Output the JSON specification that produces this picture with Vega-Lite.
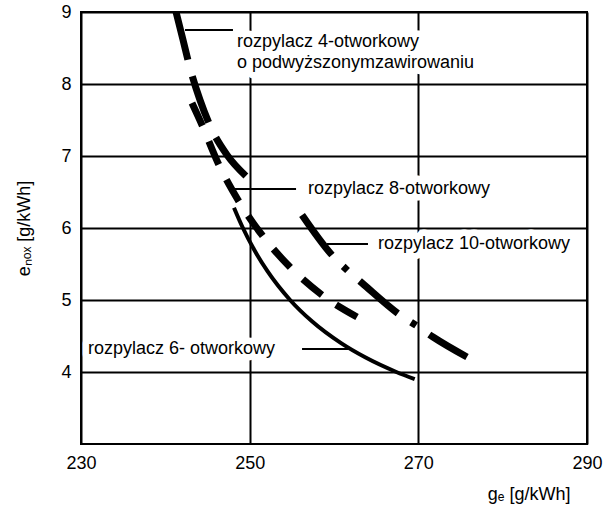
{
  "$schema": "https://vega.github.io/schema/vega-lite/v6.json",
  "width": 506,
  "height": 432,
  "autosize": {"type": "none"},
  "padding": {"left": 81, "top": 12, "right": 18, "bottom": 64},
  "background": "white",
  "config": {
    "view": {"stroke": "black", "strokeWidth": 2},
    "font": "Liberation Sans",
    "axis": {
      "domain": false,
      "ticks": false,
      "grid": true,
      "gridColor": "black",
      "gridWidth": 2,
      "gridOpacity": 1,
      "labelFont": "Liberation Sans",
      "labelFontSize": 18,
      "labelColor": "black",
      "labelFlush": false,
      "labelPadding": 10,
      "titleFont": "Liberation Sans",
      "titleFontSize": 18,
      "titleFontWeight": "normal",
      "titleColor": "black"
    }
  },
  "datasets": {
    "curves": [
      {"series": "4h", "ge": 241.27, "e": 9.0},
      {"series": "4h", "ge": 242.10, "e": 8.611},
      {"series": "4h", "ge": 242.99, "e": 8.194},
      {"series": "4h", "ge": 244.11, "e": 7.778},
      {"series": "4h", "ge": 245.54, "e": 7.361},
      {"series": "4h", "ge": 247.32, "e": 7.014},
      {"series": "4h", "ge": 249.68, "e": 6.708},
      {"series": "8h", "ge": 243.16, "e": 7.736},
      {"series": "8h", "ge": 244.35, "e": 7.431},
      {"series": "8h", "ge": 246.25, "e": 6.903},
      {"series": "8h", "ge": 248.62, "e": 6.389},
      {"series": "8h", "ge": 251.46, "e": 5.903},
      {"series": "8h", "ge": 254.78, "e": 5.458},
      {"series": "8h", "ge": 258.58, "e": 5.069},
      {"series": "8h", "ge": 262.73, "e": 4.764},
      {"series": "10h", "ge": 256.21, "e": 6.181},
      {"series": "10h", "ge": 259.76, "e": 5.625},
      {"series": "10h", "ge": 261.54, "e": 5.417},
      {"series": "10h", "ge": 263.32, "e": 5.236},
      {"series": "10h", "ge": 267.83, "e": 4.792},
      {"series": "10h", "ge": 269.84, "e": 4.639},
      {"series": "10h", "ge": 271.74, "e": 4.486},
      {"series": "10h", "ge": 275.77, "e": 4.208},
      {"series": "6h", "ge": 248.15, "e": 6.28},
      {"series": "6h", "ge": 249.2, "e": 6.0},
      {"series": "6h", "ge": 250.52, "e": 5.7},
      {"series": "6h", "ge": 252.11, "e": 5.4},
      {"series": "6h", "ge": 254.79, "e": 5.0},
      {"series": "6h", "ge": 257.42, "e": 4.7},
      {"series": "6h", "ge": 260.84, "e": 4.4},
      {"series": "6h", "ge": 263.75, "e": 4.2},
      {"series": "6h", "ge": 267.39, "e": 4.0},
      {"series": "6h", "ge": 269.57, "e": 3.9}
    ],
    "labels": [
      {"ge": 248.5, "e": 8.583, "label": "rozpylacz 4-otworkowy\no podwyższonymzawirowaniu"},
      {"ge": 256.92, "e": 6.542, "label": "rozpylacz 8-otworkowy"},
      {"ge": 265.22, "e": 5.778, "label": "rozpylacz 10-otworkowy"},
      {"ge": 230.83, "e": 4.319, "label": "rozpylacz 6- otworkowy"}
    ],
    "leaders": [
      {"ge": 242.33, "ge2": 248.02, "e": 8.75},
      {"ge": 248.02, "ge2": 255.50, "e": 6.542},
      {"ge": 259.17, "ge2": 264.03, "e": 5.778},
      {"ge": 256.21, "ge2": 261.7, "e": 4.319}
    ]
  },
  "encoding": {
    "x": {
      "field": "ge",
      "type": "quantitative",
      "scale": {"domain": [230, 290], "nice": false, "zero": false},
      "axis": {
        "values": [230, 250, 270, 290],
        "title": "gₑ [g/kWh]",
        "titleX": 489,
        "titleY": 55,
        "titleAlign": "right",
        "titleBaseline": "alphabetic",
        "titleAnchor": null
      }
    },
    "y": {
      "field": "e",
      "type": "quantitative",
      "scale": {"domain": [3, 9], "nice": false, "zero": false},
      "axis": {
        "values": [4, 5, 6, 7, 8, 9],
        "title": "eₙₒₓ [g/kWh]",
        "titleX": -57,
        "titleY": 216,
        "titleAngle": -90,
        "titleAlign": "center",
        "titleBaseline": "middle",
        "titleAnchor": null
      }
    }
  },
  "layer": [
    {
      "data": {"name": "labels"},
      "mark": {"type": "text", "align": "left", "baseline": "middle", "fontSize": 18, "lineBreak": "\n", "lineHeight": 20.5, "font": "Liberation Sans", "color": "white", "stroke": "white", "strokeWidth": 13, "strokeJoin": "round"},
      "encoding": {"text": {"field": "label"}}
    },
    {
      "data": {"name": "curves"},
      "transform": [{"filter": "datum.series === '4h'"}],
      "mark": {"type": "line", "interpolate": "monotone", "color": "black", "strokeWidth": 7, "strokeDash": [49, 17], "strokeCap": "butt"}
    },
    {
      "data": {"name": "curves"},
      "transform": [{"filter": "datum.series === '8h'"}],
      "mark": {"type": "line", "interpolate": "monotone", "color": "black", "strokeWidth": 7, "strokeDash": [25, 17], "strokeCap": "butt"}
    },
    {
      "data": {"name": "curves"},
      "transform": [{"filter": "datum.series === '10h'"}],
      "mark": {"type": "line", "interpolate": "monotone", "color": "black", "strokeWidth": 7, "strokeDash": [50, 16, 6, 16], "strokeCap": "butt"}
    },
    {
      "data": {"name": "curves"},
      "transform": [{"filter": "datum.series === '6h'"}],
      "mark": {"type": "line", "interpolate": "monotone", "color": "black", "strokeWidth": 4, "strokeCap": "butt"}
    },
    {
      "data": {"name": "leaders"},
      "mark": {"type": "rule", "color": "black", "strokeWidth": 2},
      "encoding": {"x2": {"field": "ge2"}}
    },
    {
      "data": {"name": "labels"},
      "mark": {"type": "text", "align": "left", "baseline": "middle", "fontSize": 18, "lineBreak": "\n", "lineHeight": 20.5, "font": "Liberation Sans", "color": "black"},
      "encoding": {"text": {"field": "label"}}
    }
  ]
}
